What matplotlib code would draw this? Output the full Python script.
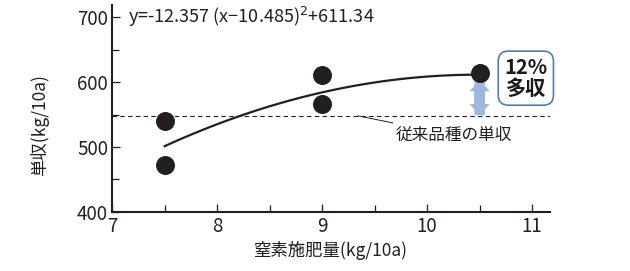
import matplotlib
matplotlib.use("Agg")
import matplotlib.pyplot as plt
from matplotlib.patches import FancyArrowPatch
import numpy as np

plt.rcParams['font.family'] = ['Noto Sans CJK JP', 'DejaVu Sans']

# data
n_rate = [7.5, 7.5, 9.0, 9.0, 10.5]
yield_kg = [540, 472, 611, 566, 614]
conventional = 548
# fitted curve coefficients y = a (x - h)^2 + k
a, h, k = -12.357, 10.485, 611.34

ink = '#231f20'

fig = plt.figure(figsize=(6.3, 2.71), dpi=100)
ax = fig.add_axes([0.178, 0.218, 0.695, 0.762])

xs = np.linspace(7.5, 10.5, 100)
ax.plot(xs, a * (xs - h) ** 2 + k, color=ink, lw=1.6, zorder=2)
ax.scatter(n_rate, yield_kg, s=160, color=ink, zorder=3)
ax.axhline(conventional, color=ink, lw=0.8, ls=(0, (4, 3)), zorder=1)

# double arrow for the 12% gain
lo, hi = conventional + 1, yield_kg[-1] - 11
for p0, p1 in ((lo, hi), (hi, lo)):
    ax.add_patch(FancyArrowPatch((10.5, p0), (10.5, p1),
                 arrowstyle='simple,head_width=1.45,head_length=0.8,tail_width=0.75',
                 mutation_scale=10, color='#9db7de', lw=0, zorder=2,
                 shrinkA=0, shrinkB=0))
ax.text(10.94, 606, '12%\n多収', fontsize=14.5, fontweight='bold', ha='center', va='center',
        color='#1a1a1a', linespacing=1.0,
        bbox=dict(boxstyle='round,pad=0.3,rounding_size=0.5', fc='white',
                  ec='#4a7fb5', lw=1.2))

ax.annotate('従来品種の単収', xy=(9.34, conventional), xytext=(9.70, 518),
            fontsize=12, ha='left', va='center', color=ink,
            arrowprops=dict(arrowstyle='-', color=ink, lw=0.7,
                            shrinkA=4, shrinkB=0))

ax.text(7.15, 701, 'y=-12.357 (x\u221210.485)$^2$+611.34', fontsize=13, ha='left',
        va='center', color=ink)

ax.set_xlim(7, 11.17)
ax.set_ylim(400, 718)
ax.set_xticks([7, 8, 9, 10, 11])
ax.set_xticks([7.5, 8.5, 9.5, 10.5], minor=True)
ax.set_yticks([400, 500, 600, 700])
ax.set_yticks([450, 550, 650], minor=True)
ax.tick_params(which='both', direction='in', color=ink, labelsize=13.5, labelcolor=ink)
ax.tick_params(which='major', length=6, width=0.9)
ax.tick_params(which='minor', length=5, width=0.9)
ax.tick_params(axis='x', pad=3)
ax.tick_params(axis='y', pad=3)
for s in ['top', 'right']:
    ax.spines[s].set_visible(False)
for s in ['left', 'bottom']:
    ax.spines[s].set_linewidth(1.5)
    ax.spines[s].set_color(ink)

ax.set_xlabel('窒素施肥量(kg/10a)', fontsize=12.5, color=ink, labelpad=3)
ax.set_ylabel('単収(kg/10a)', fontsize=12.5, color=ink, labelpad=5)
ax.yaxis.set_label_coords(-0.145, 0.42)

fig.savefig('out.png', dpi=100)
